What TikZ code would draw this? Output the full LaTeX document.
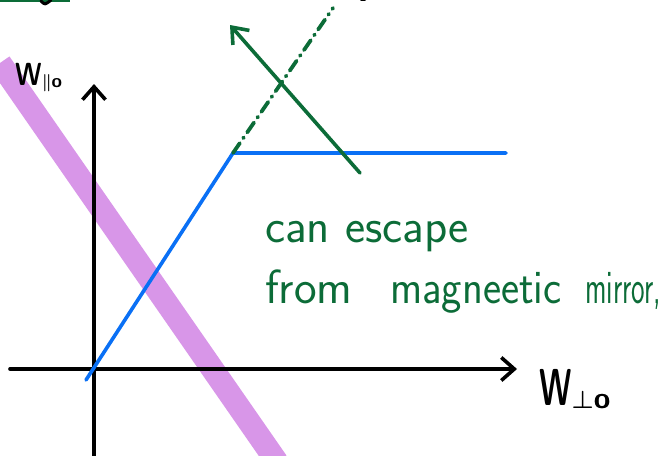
\documentclass[tikz,border=0pt]{standalone}
\usetikzlibrary{arrows.meta}
\usepackage{graphicx}
\definecolor{pen}{RGB}{12,108,56}
\definecolor{blu}{RGB}{10,112,245}
\definecolor{lil}{RGB}{216,150,232}
\begin{document}
\begin{tikzpicture}[x=1pt,y=-1pt,line cap=round,line join=round,
  axis/.style={line width=3.6pt,black},
  barb/.style={-{Straight Barb[length=13pt,width=23pt,line width=3.6pt]}},
  greenline/.style={line width=3.6pt,pen},
  dashdot/.style={line width=3.8pt,pen,dash pattern=on 12pt off 6pt on 1pt off 6pt},
  bluel/.style={line width=3.6pt,blu},
  band/.style={line width=23pt,lil,line cap=butt},
  note/.style={text=pen,font=\sffamily\fontsize{48}{48}\selectfont,anchor=base west,inner sep=0pt},
  lab/.style={text=black,inner sep=0pt,font=\sffamily\bfseries\boldmath}]
\useasboundingbox (0,0) rectangle (671,455);
% fragments at top edge
\draw[pen,line width=2pt,line cap=butt] (0,0.5) -- (70,0.5);
\draw[black,line width=3pt] (41,1) .. controls (45,5) .. (51,0);
\draw[black,line width=2pt] (361,0) -- (365,0);
% purple band
\coordinate (bA) at (0,63);
\coordinate (bB) at (277,462);
\draw[band] (bA) -- (bB);
% axes
\coordinate (yb) at (94,460);
\coordinate (yt) at (94,84);
\coordinate (xl) at (10,369);
\coordinate (xr) at (517,369);
\draw[axis,barb] (yb) -- (yt);
\draw[axis,barb] (xl) -- (xr);
% blue curve
\coordinate (p0) at (86,380);
\coordinate (p1) at (233,153);
\coordinate (p2) at (506,153);
\draw[bluel] (p0) -- (p1) -- (p2);
% green dash-dot continuation
\coordinate (d1) at (333,8);
\draw[dashdot] (p1) -- (d1);
% green arrow
\coordinate (gt) at (360,173);
\coordinate (gh) at (230,25);
\draw[greenline,-{Straight Barb[length=14pt,width=22pt,line width=3.6pt]}] (gt) -- (gh);
% labels
\node[lab,anchor=base west] (wpar) at (15,85) {\fontsize{32}{32}\selectfont\scalebox{0.8}[1]{W}\fontsize{19}{19}\selectfont\raisebox{-2pt}{$\parallel$o}};
\node[lab,anchor=base west] (wperp) at (539,405) {\fontsize{52}{52}\selectfont\scalebox{0.6}[1]{W}\fontsize{30}{30}\selectfont\raisebox{-3pt}{$\perp$o}};
% notes
\node[note] (n1) at (265,242) {can escape};
\node[note] (n2a) at (265,303) {from};
\node[note] (n2b) at (390,303) {\scalebox{0.9}[1]{magneetic}};
\node[note] (n2c) at (585,303) {\scalebox{0.6}[1]{mirror,}};
\end{tikzpicture}
\end{document}
